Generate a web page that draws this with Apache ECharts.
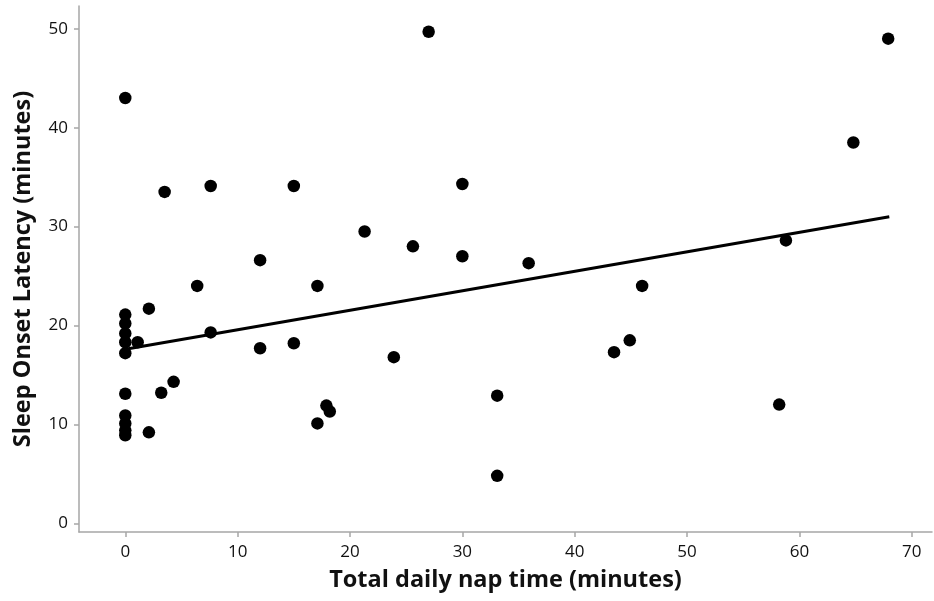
<!DOCTYPE html>
<html>
<head>
<meta charset="utf-8">
<title>Nap time vs sleep onset latency</title>
<script src="https://cdn.jsdelivr.net/npm/echarts@6/dist/echarts.min.js"></script>
<style>
    html, body { margin: 0; padding: 0; background: #fff; }
    #chart { width: 934px; height: 601px; }
</style>
</head>
<body>
<div id="chart"></div>
<script>
    "use strict";
    // nap time (min) and sleep onset latency (min)
    var napTime = [
        0, 0, 0, 0, 0, 0, 0, 0, 0, 0, 0,
        1.1, 2.1, 2.1, 3.2, 3.5, 4.3, 6.4, 7.6, 7.6,
        12.0, 12.0, 15.0, 15.0, 17.1, 17.1, 17.9, 18.2,
        21.3, 23.9, 25.6, 27.0, 30.0, 30.0, 33.1, 33.1, 35.9,
        43.5, 44.9, 46.0, 58.2, 58.8, 64.8, 67.9
    ];
    var latency = [
        43.0, 21.1, 20.2, 19.2, 18.3, 17.2, 13.1, 10.9, 10.1, 9.4, 8.9,
        18.3, 21.7, 9.2, 13.2, 33.5, 14.3, 24.0, 34.1, 19.3,
        26.6, 17.7, 34.1, 18.2, 24.0, 10.1, 11.9, 11.3,
        29.5, 16.8, 28.0, 49.7, 34.3, 27.0, 12.9, 4.8, 26.3,
        17.3, 18.5, 24.0, 12.0, 28.6, 38.5, 49.0
    ];
    // fitted line end points
    var fitX = [0, 68];
    var fitY = [17.6, 31.0];

    var xTicks = [0, 10, 20, 30, 40, 50, 60, 70];
    var yTicks = [0, 10, 20, 30, 40, 50];

    var points = napTime.map(function (x, i) { return [x, latency[i]]; });
    var fitLine = fitX.map(function (x, i) { return [x, fitY[i]]; });

    var font = "'Open Sans', 'Noto Sans', sans-serif";
    var axisGrey = "#a6a6a6";

    var chart = echarts.init(document.getElementById("chart"), null, { renderer: "canvas" });
    chart.setOption({
        animation: false,
        backgroundColor: "#ffffff",
        grid: { left: 79, right: 2, top: 6, bottom: 69, containLabel: false },
        xAxis: {
            type: "value",
            min: -4.12,
            max: 71.8,
            name: "Total daily nap time (minutes)",
            nameLocation: "middle",
            nameGap: 36,
            nameTextStyle: { fontFamily: font, fontSize: 23.5, fontWeight: "bold", color: "#111" },
            axisLine: { show: true, onZero: false, lineStyle: { color: axisGrey, width: 1.5 } },
            axisTick: { show: true, length: 5, customValues: xTicks, lineStyle: { color: axisGrey, width: 1.5 } },
            axisLabel: { customValues: xTicks, margin: 12, fontFamily: font, fontSize: 17, color: "#111" },
            splitLine: { show: false }
        },
        yAxis: {
            type: "value",
            min: -0.88,
            max: 52.3,
            name: "Sleep Onset Latency (minutes)",
            nameLocation: "middle",
            nameGap: 44,
            nameTextStyle: { fontFamily: font, fontSize: 23.5, fontWeight: "bold", color: "#111" },
            axisLine: { show: true, onZero: false, lineStyle: { color: axisGrey, width: 1.5 } },
            axisTick: { show: true, length: 5, customValues: yTicks, lineStyle: { color: axisGrey, width: 1.5 } },
            axisLabel: { customValues: yTicks, margin: 11, fontFamily: font, fontSize: 17, color: "#111" },
            splitLine: { show: false }
        },
        series: [
            {
                type: "line",
                data: fitLine,
                symbol: "none",
                lineStyle: { color: "#000", width: 3 },
                z: 3
            },
            {
                type: "scatter",
                data: points,
                symbol: "circle",
                symbolSize: 12.5,
                itemStyle: { color: "#000", opacity: 1 },
                z: 4
            }
        ]
    });
</script>
</body>
</html>
